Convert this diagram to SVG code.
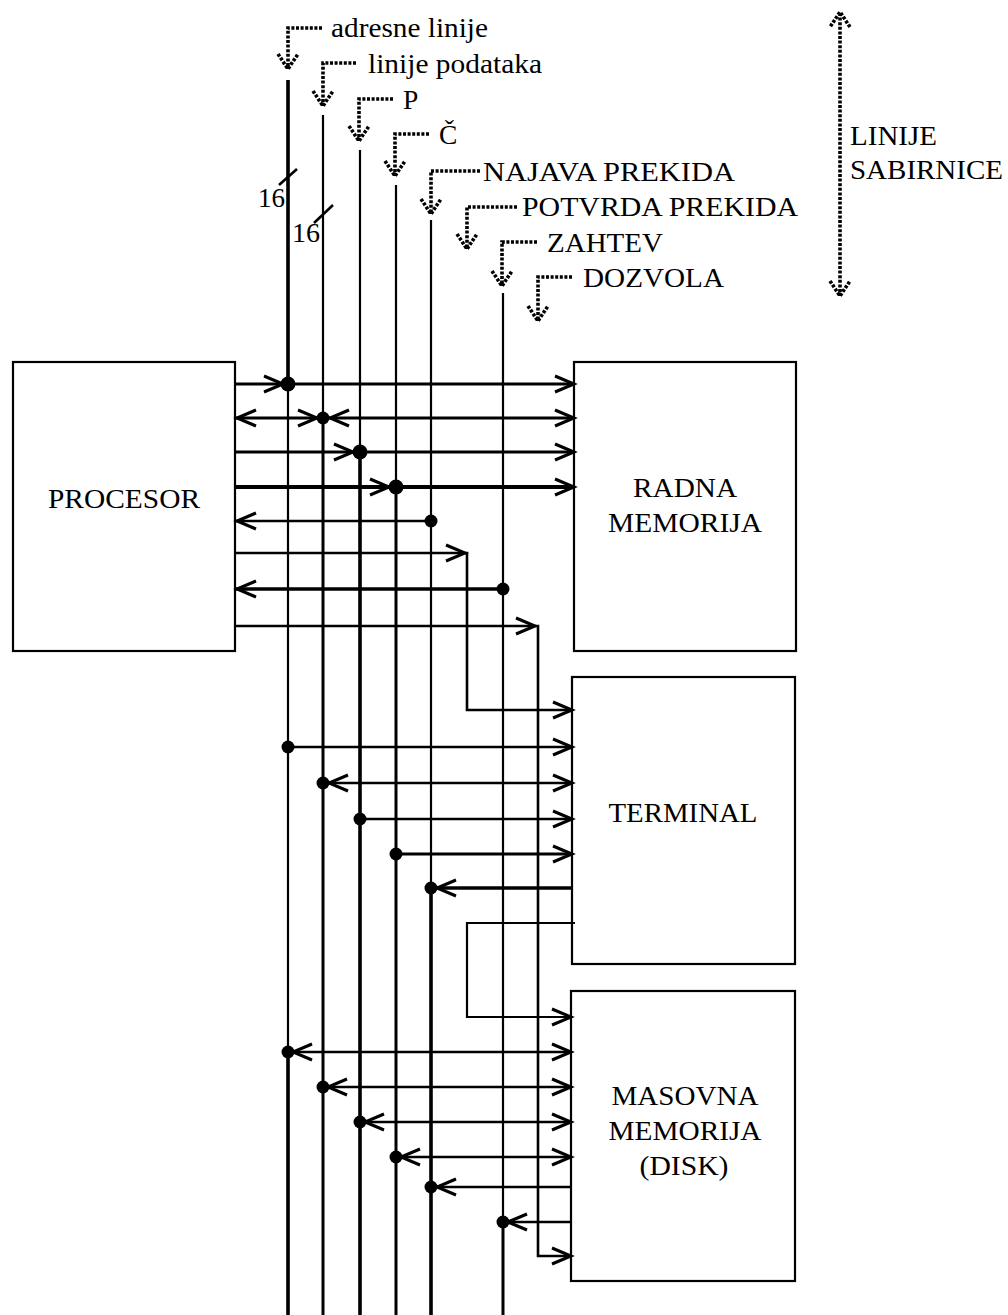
<svg xmlns="http://www.w3.org/2000/svg" xmlns:xlink="http://www.w3.org/1999/xlink" width="1008" height="1315" viewBox="0 0 1008 1315">
<style>
text { font-family: "Liberation Serif", "Times New Roman", serif; font-size: 27.5px; fill: #000; }
.box { fill: #fff; stroke: #000; stroke-width: 2.2; }
.ln { fill: none; stroke: #000; stroke-linecap: butt; }
.t2 { stroke-width: 2.2; }
.t25 { stroke-width: 2.6; }
.t3 { stroke-width: 3; }
.t35 { stroke-width: 3.6; }
.t4 { stroke-width: 4; }
.dot { fill: #000; }
.dt { fill: none; stroke: #000; stroke-width: 3.6; stroke-dasharray: 3 1.6; }
</style>
<defs>
<path id="ah" d="M-19,-8 L0,0 L-19,8" fill="none" stroke="#000" stroke-width="3"/>
<path id="dah" d="M-10,-15 L0,0 L10,-15" fill="none" stroke="#000" stroke-width="3.6" stroke-dasharray="3 1.6"/>
</defs>

<g id="procesor">
<rect class="box" x="13" y="362" width="222" height="289"/>
<text x="124" y="508" text-anchor="middle" textLength="152" lengthAdjust="spacingAndGlyphs">PROCESOR</text>
</g>
<g id="radna-memorija">
<rect class="box" x="574" y="362" width="222" height="289"/>
<text x="685" y="497" text-anchor="middle" textLength="104" lengthAdjust="spacingAndGlyphs">RADNA</text>
<text x="685" y="532" text-anchor="middle" textLength="154" lengthAdjust="spacingAndGlyphs">MEMORIJA</text>
</g>
<g id="terminal">
<rect class="box" x="572" y="677" width="223" height="287"/>
<text x="683" y="822" text-anchor="middle" textLength="149" lengthAdjust="spacingAndGlyphs">TERMINAL</text>
</g>
<g id="masovna-memorija">
<rect class="box" x="571" y="991" width="224" height="290"/>
<text x="685" y="1105" text-anchor="middle" textLength="147" lengthAdjust="spacingAndGlyphs">MASOVNA</text>
<text x="685" y="1140" text-anchor="middle" textLength="153" lengthAdjust="spacingAndGlyphs">MEMORIJA</text>
<text x="684" y="1175" text-anchor="middle" textLength="89" lengthAdjust="spacingAndGlyphs">(DISK)</text>
</g>

<g id="labels">
<text x="331" y="37" textLength="157" lengthAdjust="spacingAndGlyphs">adresne linije</text>
<text x="368" y="73" textLength="174" lengthAdjust="spacingAndGlyphs">linije podataka</text>
<text x="403" y="109">P</text>
<text x="439" y="144">Č</text>
<text x="483" y="181" textLength="252" lengthAdjust="spacingAndGlyphs">NAJAVA PREKIDA</text>
<text x="522" y="216" textLength="276" lengthAdjust="spacingAndGlyphs">POTVRDA PREKIDA</text>
<text x="547" y="252" textLength="116" lengthAdjust="spacingAndGlyphs">ZAHTEV</text>
<text x="583" y="287" textLength="141" lengthAdjust="spacingAndGlyphs">DOZVOLA</text>
<text x="850" y="145" textLength="87" lengthAdjust="spacingAndGlyphs">LINIJE</text>
<text x="850" y="179" textLength="153" lengthAdjust="spacingAndGlyphs">SABIRNICE</text>
<text x="258" y="207" textLength="27" lengthAdjust="spacingAndGlyphs">16</text>
<text x="292" y="242" textLength="28" lengthAdjust="spacingAndGlyphs">16</text>
</g>

<g id="connectors">
<!-- dotted label arrows -->
<path class="dt" d="M322,28 H288 V68"/>
<use xlink:href="#dah" href="#dah" transform="translate(288,69)"/>
<path class="dt" d="M356,63 H323 V105"/>
<use xlink:href="#dah" href="#dah" transform="translate(323,106)"/>
<path class="dt" d="M393,99 H359 V140"/>
<use xlink:href="#dah" href="#dah" transform="translate(359,141)"/>
<path class="dt" d="M429,134 H395 V175"/>
<use xlink:href="#dah" href="#dah" transform="translate(395,176)"/>
<path class="dt" d="M480,171 H431 V213"/>
<use xlink:href="#dah" href="#dah" transform="translate(431,214)"/>
<path class="dt" d="M517,207 H467 V248"/>
<use xlink:href="#dah" href="#dah" transform="translate(467,249)"/>
<path class="dt" d="M537,242 H502 V285"/>
<use xlink:href="#dah" href="#dah" transform="translate(502,286)"/>
<path class="dt" d="M572,277 H538 V320"/>
<use xlink:href="#dah" href="#dah" transform="translate(538,321)"/>
<path class="dt" d="M840,13 V295"/>
<use xlink:href="#dah" href="#dah" transform="translate(840,12) rotate(180)"/>
<use xlink:href="#dah" href="#dah" transform="translate(840,296)"/>

<!-- width ticks -->
<path class="ln t25" d="M279,185 L297,169"/>
<path class="ln t25" d="M314,223 L333,205"/>

<!-- vertical bus lines -->
<path class="ln t35" d="M288,80 V384"/>
<path class="ln t2" d="M288,384 V1052"/>
<path class="ln t35" d="M288,1052 V1315"/>
<path class="ln t2" d="M323,115 V418"/>
<path class="ln t3" d="M323,418 V1315"/>
<path class="ln t2" d="M360,150 V452"/>
<path class="ln t35" d="M360,452 V1315"/>
<path class="ln t2" d="M396,185 V487"/>
<path class="ln t3" d="M396,487 V1315"/>
<path class="ln t2" d="M431,220 V888"/>
<path class="ln t35" d="M431,888 V1315"/>
<path class="ln t2" d="M503,293 V1222"/>
<path class="ln t3" d="M503,1222 V1315"/>

<!-- daisy chain lines -->
<path class="ln t25" d="M235,553 H467 V710 H572"/>
<path class="ln t2" d="M575,923 H467 V1017 H571"/>
<path class="ln t25" d="M235,626 H538 V1256 H571"/>

<!-- processor - radna memorija rows -->
<path class="ln t3" d="M235,384 H574"/>
<path class="ln t3" d="M235,418 H574"/>
<path class="ln t3" d="M235,452 H574"/>
<path class="ln t4" d="M235,487 H574"/>
<path class="ln t25" d="M235,521 H431"/>
<path class="ln t35" d="M235,589 H503"/>

<!-- terminal rows -->
<path class="ln t25" d="M288,747 H572"/>
<path class="ln t25" d="M323,783 H572"/>
<path class="ln t25" d="M360,819 H572"/>
<path class="ln t3" d="M396,854 H572"/>
<path class="ln t35" d="M431,888 H572"/>

<!-- disk rows -->
<path class="ln t25" d="M288,1052 H571"/>
<path class="ln t25" d="M323,1087 H571"/>
<path class="ln t25" d="M360,1122 H571"/>
<path class="ln t25" d="M396,1157 H571"/>
<path class="ln t25" d="M431,1187 H571"/>
<path class="ln t25" d="M503,1222 H571"/>

<!-- arrowheads -->
<use href="#ah" transform="translate(574,384)"/>
<use href="#ah" transform="translate(574,418)"/>
<use href="#ah" transform="translate(574,452)"/>
<use href="#ah" transform="translate(574,487)"/>
<use href="#ah" transform="translate(283,384)"/>
<use href="#ah" transform="translate(317,418)"/>
<use href="#ah" transform="translate(330,418) rotate(180)"/>
<use href="#ah" transform="translate(353,452)"/>
<use href="#ah" transform="translate(389,487)"/>
<use href="#ah" transform="translate(237,418) rotate(180)"/>
<use href="#ah" transform="translate(237,521) rotate(180)"/>
<use href="#ah" transform="translate(237,589) rotate(180)"/>
<use href="#ah" transform="translate(465,553)"/>
<use href="#ah" transform="translate(535,626)"/>

<use href="#ah" transform="translate(572,710)"/>
<use href="#ah" transform="translate(572,747)"/>
<use href="#ah" transform="translate(572,783)"/>
<use href="#ah" transform="translate(572,819)"/>
<use href="#ah" transform="translate(572,854)"/>
<use href="#ah" transform="translate(329,783) rotate(180)"/>
<use href="#ah" transform="translate(437,888) rotate(180)"/>

<use href="#ah" transform="translate(571,1017)"/>
<use href="#ah" transform="translate(571,1052)"/>
<use href="#ah" transform="translate(571,1087)"/>
<use href="#ah" transform="translate(571,1122)"/>
<use href="#ah" transform="translate(571,1157)"/>
<use href="#ah" transform="translate(571,1256)"/>
<use href="#ah" transform="translate(293,1052) rotate(180)"/>
<use href="#ah" transform="translate(328,1087) rotate(180)"/>
<use href="#ah" transform="translate(365,1122) rotate(180)"/>
<use href="#ah" transform="translate(401,1157) rotate(180)"/>
<use href="#ah" transform="translate(437,1187) rotate(180)"/>
<use href="#ah" transform="translate(508,1222) rotate(180)"/>

<!-- junction dots -->
<circle class="dot" cx="288" cy="384" r="7.5"/>
<circle class="dot" cx="323" cy="418" r="6.5"/>
<circle class="dot" cx="360" cy="452" r="7.5"/>
<circle class="dot" cx="396" cy="487" r="7.5"/>
<circle class="dot" cx="431" cy="521" r="6.5"/>
<circle class="dot" cx="503" cy="589" r="6.5"/>
<circle class="dot" cx="288" cy="747" r="6.5"/>
<circle class="dot" cx="323" cy="783" r="6.5"/>
<circle class="dot" cx="360" cy="819" r="6.5"/>
<circle class="dot" cx="396" cy="854" r="6.5"/>
<circle class="dot" cx="431" cy="888" r="6.5"/>
<circle class="dot" cx="288" cy="1052" r="6.5"/>
<circle class="dot" cx="323" cy="1087" r="6.5"/>
<circle class="dot" cx="360" cy="1122" r="6.5"/>
<circle class="dot" cx="396" cy="1157" r="6.5"/>
<circle class="dot" cx="431" cy="1187" r="6.5"/>
<circle class="dot" cx="503" cy="1222" r="6.5"/>
</g>
</svg>
